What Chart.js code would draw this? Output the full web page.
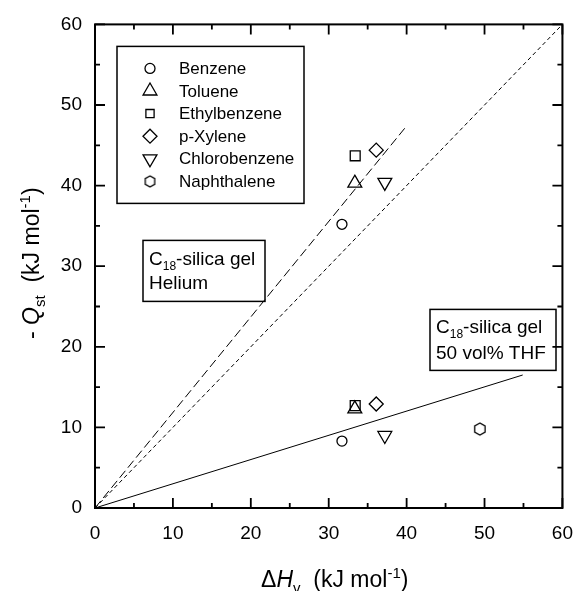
<!DOCTYPE html>
<html><head><meta charset="utf-8">
<script src="https://cdn.jsdelivr.net/npm/chart.js@4.4.1/dist/chart.umd.min.js"></script>
<style>html,body{margin:0;padding:0;background:#fff;}#wrap{width:587px;height:591px;}</style>
</head><body><div id="wrap"><canvas id="c" width="587" height="591"></canvas></div>
<script>
// ---- data ----
const compounds = ['Benzene','Toluene','Ethylbenzene','p-Xylene','Chlorobenzene','Naphthalene'];
const dHv      = [31.7, 33.35, 33.4, 36.1, 37.2, 49.4];
const qHelium  = [35.2, 40.3, 43.7, 44.4, 40.4, null];
const qTHF     = [8.3, 12.3, 12.7, 12.9, 9.0, 9.8];
const diagLine   = [[0,0],[60,60]];
const heliumFit  = [[0,0],[40,47.4]];
const thfFit     = [[0,0],[54.9,16.5]];
const majorTicks = [0,10,20,30,40,50,60];
const minorTicks = [5,15,25,35,45,55];

const FONT = '"Liberation Sans", Arial, Helvetica, sans-serif';

// hexagon marker image
function hexCanvas(r, lw){
  const s = Math.ceil(2*r + 4);
  const c = document.createElement('canvas'); c.width = s; c.height = s;
  const g = c.getContext('2d');
  g.strokeStyle = '#000'; g.lineWidth = lw;
  g.beginPath();
  for (let k=0;k<6;k++){
    const a = Math.PI/2 + k*Math.PI/3;
    const px = s/2 + r*Math.cos(a), py = s/2 - r*Math.sin(a);
    k ? g.lineTo(px,py) : g.moveTo(px,py);
  }
  g.closePath(); g.stroke();
  return c;
}
const hexImg = hexCanvas(6, 1.3);
const hexImgLegend = hexCanvas(5.5, 1.3);

const styles = [
  {pointStyle:'circle', r:5, rot:0},
  {pointStyle:'triangle', r:8, rot:0},
  {pointStyle:'rect', r:7, rot:0},
  {pointStyle:'rectRot', r:7, rot:0},
  {pointStyle:'triangle', r:8, rot:180},
  {pointStyle:hexImg, r:6, rot:0}
];
const legendStyles = [
  {pointStyle:'circle', r:5, rot:0},
  {pointStyle:'triangle', r:8, rot:0},
  {pointStyle:'rect', r:5.8, rot:0},
  {pointStyle:'rectRot', r:7, rot:0},
  {pointStyle:'triangle', r:8, rot:180},
  {pointStyle:hexImgLegend, r:6, rot:0}
];

const pts = a => a.map(p => ({x:p[0], y:p[1]}));

const datasets = [
  {type:'line', label:'y = x', data:pts(diagLine), showLine:true, borderColor:'#000', borderWidth:1, borderDash:[4,3], pointRadius:0, fill:false},
  {type:'line', label:'Helium fit', data:pts(heliumFit), showLine:true, borderColor:'#000', borderWidth:1, borderDash:[9,4], pointRadius:0, fill:false},
  {type:'line', label:'THF fit', data:pts(thfFit), showLine:true, borderColor:'#000', borderWidth:1, pointRadius:0, fill:false}
];
compounds.forEach((name,i) => {
  const d = [];
  if (qHelium[i] !== null) d.push({x:dHv[i], y:qHelium[i]});
  if (qTHF[i] !== null) d.push({x:dHv[i], y:qTHF[i]});
  datasets.push({
    label:name, data:d, showLine:false, isCompound:true, legendIndex:i,
    pointStyle:styles[i].pointStyle, pointRadius:styles[i].r, pointRotation:styles[i].rot,
    pointBackgroundColor:'rgba(0,0,0,0)', pointBorderColor:'#000', pointBorderWidth:1.3,
    borderColor:'#000', backgroundColor:'rgba(0,0,0,0)'
  });
});

function drawRich(ctx, parts, x, y, align){
  let w = 0;
  parts.forEach(p => { ctx.font = p.font; w += ctx.measureText(p.t).width; });
  let cx = align === 'center' ? x - w/2 : x;
  parts.forEach(p => {
    ctx.font = p.font;
    ctx.fillText(p.t, cx, y + (p.dy||0));
    cx += ctx.measureText(p.t).width;
  });
}

function drawMarker(ctx, st, x, y){
  if (typeof st.pointStyle !== 'string'){
    const im = st.pointStyle;
    ctx.drawImage(im, x - im.width/2, y - im.height/2);
    return;
  }
  if (Chart.helpers && Chart.helpers.drawPoint){
    Chart.helpers.drawPoint(ctx, {pointStyle:st.pointStyle, rotation:st.rot, radius:st.r, borderWidth:1.3}, x, y);
  }
}

const framePlugin = {
  id:'frame',
  afterDatasetsDraw(chart){
    const {ctx, chartArea:a, scales:{x, y}} = chart;
    ctx.save();
    ctx.fillStyle = '#000'; ctx.strokeStyle = '#000';
    // frame
    ctx.lineWidth = 2;
    ctx.strokeRect(a.left, a.top, a.right - a.left, a.bottom - a.top);
    // ticks (inward, all four sides)
    ctx.lineWidth = 1.8;
    const tick = (vals, len) => {
      vals.forEach(v => {
        const px = x.getPixelForValue(v), py = y.getPixelForValue(v);
        ctx.beginPath();
        ctx.moveTo(px, a.bottom); ctx.lineTo(px, a.bottom - len);
        ctx.moveTo(px, a.top); ctx.lineTo(px, a.top + len);
        ctx.moveTo(a.left, py); ctx.lineTo(a.left + len, py);
        ctx.moveTo(a.right, py); ctx.lineTo(a.right - len, py);
        ctx.stroke();
      });
    };
    tick(majorTicks, 10);
    tick(minorTicks, 5);

    // legend
    const L = a.left, T = a.top;
    ctx.lineWidth = 1.5;
    ctx.strokeRect(L + 22, T + 22, 187, 157);
    ctx.font = '17px ' + FONT;
    ctx.textBaseline = 'middle'; ctx.textAlign = 'left';
    chart.data.datasets.filter(d => d.isCompound).forEach((d, k) => {
      const yy = T + 44 + k*22.6;
      ctx.strokeStyle = '#000'; ctx.lineWidth = 1.3; ctx.fillStyle = 'rgba(0,0,0,0)';
      drawMarker(ctx, legendStyles[d.legendIndex], L + 55, yy);
      ctx.fillStyle = '#000';
      ctx.fillText(d.label, L + 84, yy + 1);
    });

    // annotation boxes
    ctx.strokeStyle = '#000'; ctx.lineWidth = 1.5;
    ctx.textBaseline = 'alphabetic';
    const big = '19px ' + FONT, small = '12px ' + FONT;
    ctx.strokeRect(L + 48, T + 216, 122, 61);
    drawRich(ctx, [{t:'C',font:big},{t:'18',font:small,dy:5},{t:'-silica gel',font:big}], L + 54, T + 241);
    drawRich(ctx, [{t:'Helium',font:big}], L + 54, T + 265);
    ctx.strokeRect(L + 335, T + 285, 126, 61);
    drawRich(ctx, [{t:'C',font:big},{t:'18',font:small,dy:5},{t:'-silica gel',font:big}], L + 341, T + 309);
    drawRich(ctx, [{t:'50 vol% THF',font:big}], L + 341, T + 335);

    // axis titles
    const tf = '23px ' + FONT, ti = 'italic 23px ' + FONT, ts = '15px ' + FONT;
    drawRich(ctx, [{t:'\u0394',font:tf},{t:'H',font:ti},{t:'v',font:ts,dy:6},{t:'  (kJ mol',font:tf},{t:'-1',font:ts,dy:-9},{t:')',font:tf}], (a.left + a.right)/2 + 6, 587, 'center');
    ctx.translate(39, (a.top + a.bottom)/2 - 3);
    ctx.rotate(-Math.PI/2);
    drawRich(ctx, [{t:'- ',font:tf},{t:'Q',font:ti},{t:'st',font:ts,dy:6},{t:'  (kJ mol',font:tf},{t:'-1',font:ts,dy:-9},{t:')',font:tf}], 0, 0, 'center');
    ctx.restore();
  }
};

new Chart(document.getElementById('c'), {
  type:'scatter',
  data:{datasets},
  options:{
    responsive:false, animation:false, devicePixelRatio:1,
    layout:{padding:{left:0, top:23, right:13, bottom:0}},
    plugins:{legend:{display:false}, tooltip:{enabled:false}},
    scales:{
      x:{type:'linear', min:0, max:60,
         afterFit(s){ s.height = 83; },
         grid:{display:false, drawTicks:false}, border:{display:false},
         ticks:{stepSize:10, padding:14, color:'#000', font:{family:FONT, size:19}, maxRotation:0}},
      y:{type:'linear', min:0, max:60,
         afterFit(s){ s.width = 95; },
         grid:{display:false, drawTicks:false}, border:{display:false},
         ticks:{stepSize:10, padding:13, color:'#000', font:{family:FONT, size:19}}}
    }
  },
  plugins:[framePlugin]
});
</script></body></html>
